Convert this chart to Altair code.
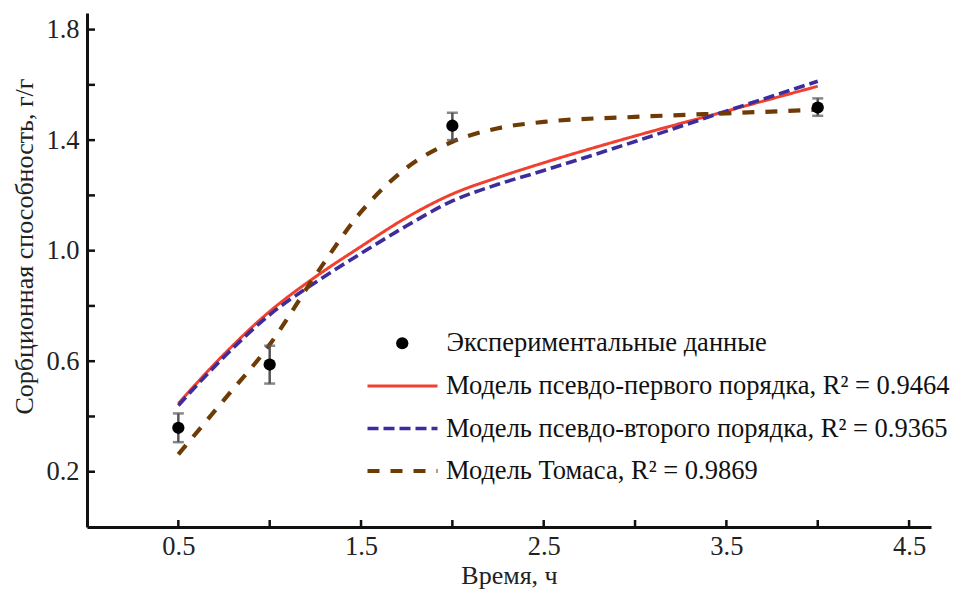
import altair as alt
import pandas as pd

# ---------------- data ----------------
exp_t = [0.5, 1.0, 2.0, 4.0]
exp_q = [0.359, 0.588, 1.452, 1.518]
exp_lo = [0.307, 0.519, 1.400, 1.488]
exp_hi = [0.411, 0.656, 1.499, 1.551]

pfo_t = [0.5, 0.75, 1.0, 1.25, 1.5, 1.75, 2.0, 2.25, 2.5, 3.0, 3.5, 4.0]
pfo_q = [0.447, 0.625, 0.78, 0.905, 1.015, 1.12, 1.205, 1.265, 1.318, 1.415, 1.505, 1.595]

pso_t = [0.5, 0.75, 1.0, 1.25, 1.5, 1.75, 2.0, 2.25, 2.5, 3.0, 3.5, 4.0]
pso_q = [0.44, 0.615, 0.768, 0.885, 0.99, 1.09, 1.18, 1.24, 1.29, 1.395, 1.505, 1.613]

thomas_t = [0.5, 0.75, 1.0, 1.25, 1.5, 1.75, 2.0, 2.25, 2.5, 3.0, 3.5, 4.0]
thomas_q = [0.263, 0.46, 0.66, 0.91, 1.14, 1.30, 1.394, 1.443, 1.466, 1.484, 1.497, 1.51]

series_names = [
    "Модель псевдо-первого порядка, R² = 0.9464",
    "Модель псевдо-второго порядка, R² = 0.9365",
    "Модель Томаса, R² = 0.9869",
]
exp_name = "Экспериментальные данные"

x_ticks = [0.5, 1.0, 1.5, 2.0, 2.5, 3.0, 3.5, 4.0, 4.5]
x_labels = [0.5, 1.5, 2.5, 3.5, 4.5]
y_ticks = [0.2, 0.4, 0.6, 0.8, 1.0, 1.2, 1.4, 1.6, 1.8]
y_labels = [0.2, 0.6, 1.0, 1.4, 1.8]

# ---------------- tables ----------------
lines_df = pd.concat([
    pd.DataFrame({"t": pfo_t, "q": pfo_q, "model": series_names[0], "order": 0}),
    pd.DataFrame({"t": pso_t, "q": pso_q, "model": series_names[1], "order": 1}),
    pd.DataFrame({"t": thomas_t, "q": thomas_q, "model": series_names[2], "order": 2}),
])
exp_df = pd.DataFrame({"t": exp_t, "q": exp_q, "lo": exp_lo, "hi": exp_hi, "s": exp_name})
xt_df = pd.DataFrame({"v": x_ticks})
yt_df = pd.DataFrame({"v": y_ticks})

W, H = 844, 514
FONT = "Liberation Serif, Times New Roman, serif"

xscale = alt.Scale(domain=[0, 4.62], nice=False, zero=False)
yscale = alt.Scale(domain=[0, 1.86], nice=False, zero=False)

X_AX = alt.Axis(values=x_labels, format=".1f", title="Время, ч", tickSize=0,
                labelPadding=6, titlePadding=3)
Y_AX = alt.Axis(values=y_labels, format=".1f", title="Сорбционная способность, г/г",
                tickSize=0, labelPadding=8, titlePadding=8, titleY=233)

colors = ["#F2402F", "#3B2D9C", "#6E3B05"]
dashes = [[1, 0], [11, 5], [12, 11]]
widths = [3, 4.2, 3.4]

LEG_FS = 26.5

lines = alt.Chart(lines_df).mark_line(interpolate="monotone").encode(
    x=alt.X("t:Q", scale=xscale, axis=X_AX),
    y=alt.Y("q:Q", scale=yscale, axis=Y_AX),
    color=alt.Color("model:N", scale=alt.Scale(domain=series_names, range=colors),
                    legend=alt.Legend(orient="none", legendX=278, legendY=358, title=None,
                                      symbolType="stroke", symbolSize=4900,
                                      symbolStrokeWidth=4, labelFont=FONT, labelFontSize=LEG_FS,
                                      labelColor="#111", labelLimit=700, rowPadding=12.5,
                                      clipHeight=30, labelOffset=6)),
    strokeDash=alt.StrokeDash("model:N", scale=alt.Scale(domain=series_names, range=dashes),
                              legend=None),
    strokeWidth=alt.StrokeWidth("model:N", scale=alt.Scale(domain=series_names, range=widths),
                                legend=None),
    detail="model:N",
    order="order:Q",
)

err = alt.Chart(exp_df).mark_errorbar(ticks=alt.MarkConfig(size=11, color="#555", strokeWidth=2.5),
                                      color="#555", thickness=2.5).encode(
    x=alt.X("t:Q", scale=xscale, axis=X_AX),
    y=alt.Y("lo:Q", scale=yscale, axis=Y_AX),
    y2="hi:Q",
)

pts = alt.Chart(exp_df).mark_point(filled=True, size=150, opacity=1).encode(
    x=alt.X("t:Q", scale=xscale, axis=X_AX),
    y=alt.Y("q:Q", scale=yscale, axis=Y_AX),
    fill=alt.Fill("s:N", scale=alt.Scale(range=["#000000"]),
                  legend=alt.Legend(orient="none", legendX=302, legendY=317, title=None,
                                    symbolType="circle", symbolSize=150,
                                    labelFont=FONT, labelFontSize=LEG_FS, labelColor="#111",
                                    labelOffset=31, labelLimit=700)),
)

xt = alt.Chart(xt_df).mark_rule(color="#111", strokeWidth=2.5).encode(
    x=alt.X("v:Q", scale=xscale, axis=X_AX),
    y=alt.value(H),
    y2=alt.value(H - 7),
)
yt = alt.Chart(yt_df).mark_rule(color="#111", strokeWidth=2.5).encode(
    y=alt.Y("v:Q", scale=yscale, axis=Y_AX),
    x=alt.value(0),
    x2=alt.value(8),
)

chart = alt.layer(lines, err, pts, xt, yt).properties(
    width=W, height=H,
    autosize=alt.AutoSizeParams(type="none"),
    padding={"left": 87, "top": 13, "right": 26, "bottom": 65},
).configure_view(stroke=None).configure_axis(
    domainColor="#111", domainWidth=3, labelFont=FONT, labelFontSize=26.5, labelColor="#222",
    titleFont=FONT, titleFontSize=26, titleFontWeight="normal", titleColor="#222",
    grid=False,
).configure_legend(
    symbolStrokeWidth=4,
)

chart.save("out.html", embed_options={"renderer": "svg", "actions": False})
